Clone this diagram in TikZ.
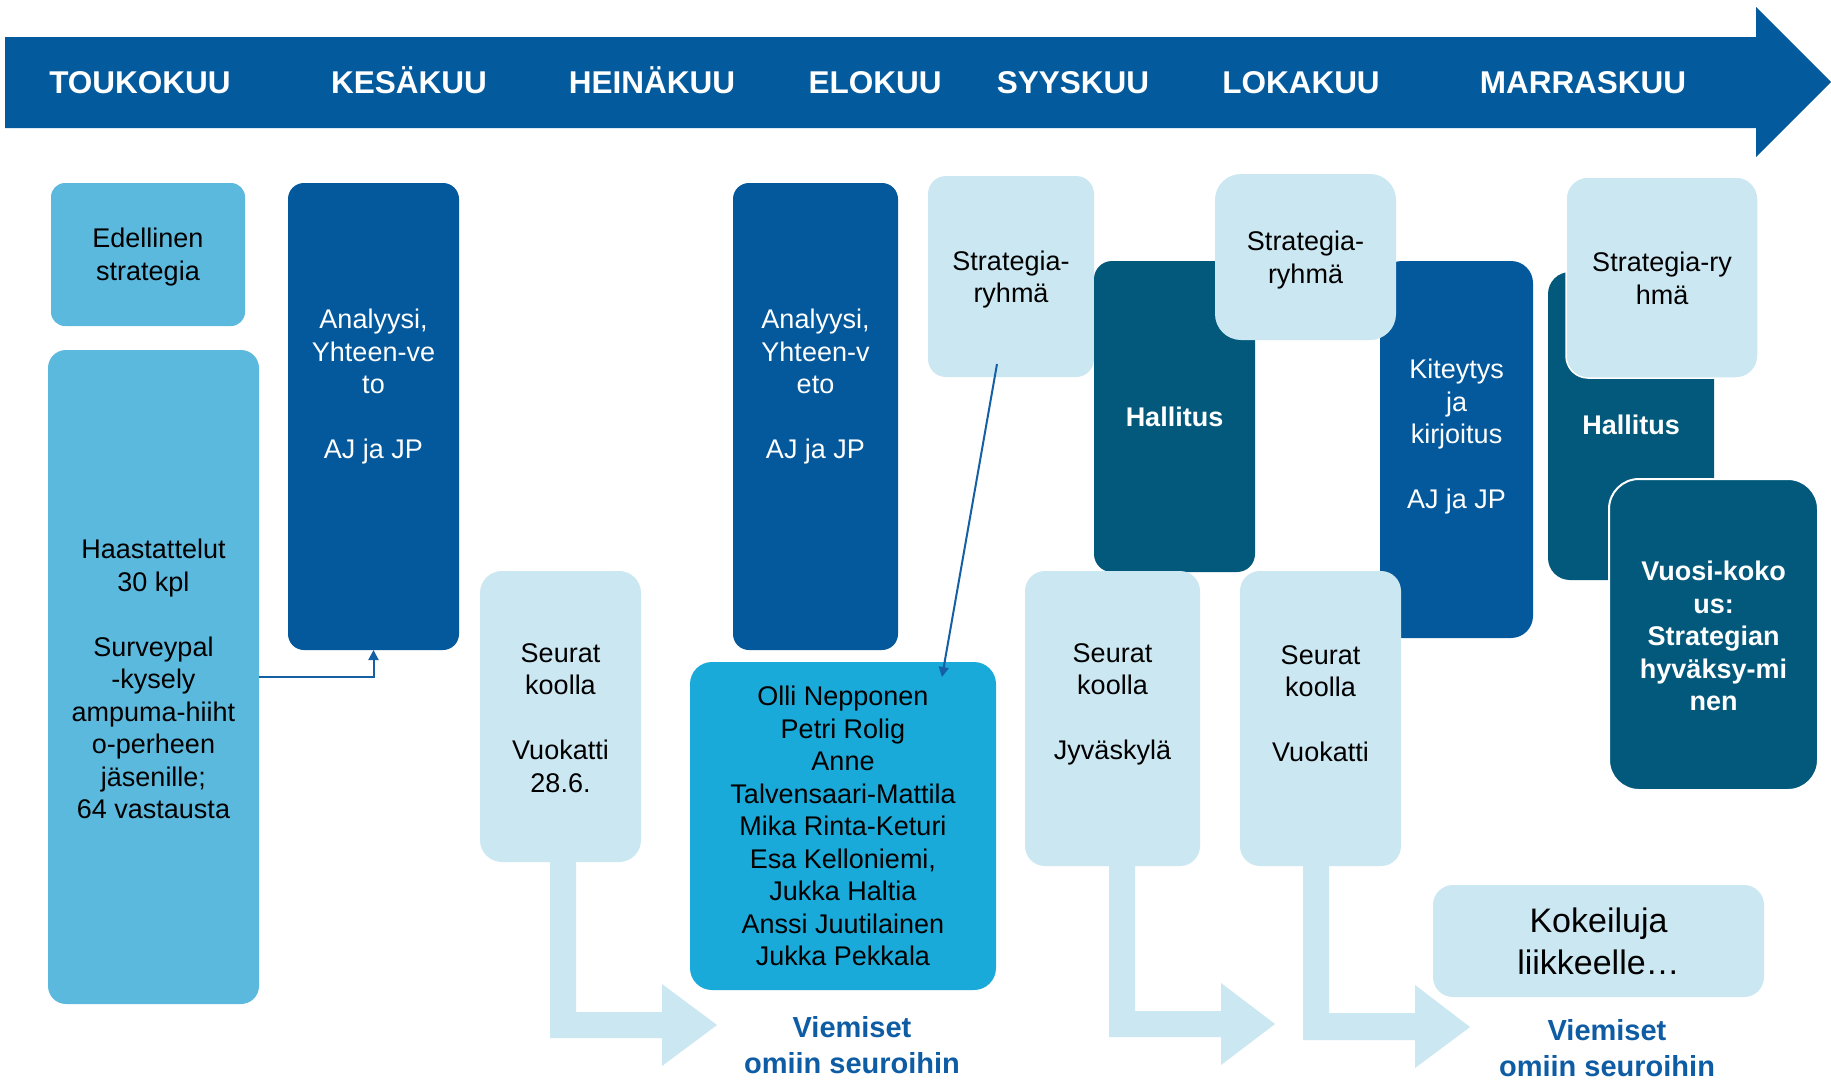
\documentclass[tikz,border=0pt]{standalone}
\usepackage{fontspec}
\setmainfont{Liberation Sans}
\usetikzlibrary{arrows.meta}
\definecolor{bandc}{HTML}{035A9D}
\definecolor{midblue}{HTML}{5CB9DE}
\definecolor{darkblue}{HTML}{03599C}
\definecolor{pale}{HTML}{CBE7F1}
\definecolor{cyanb}{HTML}{1AAAD9}
\definecolor{tealb}{HTML}{02597C}
\definecolor{linec}{HTML}{1560A4}
\definecolor{vtext}{HTML}{0E5CA4}
\newcommand\myfs[2]{\fontsize{#1}{#2}\selectfont}
\tikzset{
  box/.style={rectangle, inner sep=0pt, outer sep=0pt},
  txt/.style={align=center, inner sep=0pt, font=\myfs{27}{32.5}},
  wtxt/.style={txt, text=white},
  btxt/.style={txt, text=white, font=\myfs{27}{32.5}\bfseries},
  month/.style={text=white, font=\myfs{31.5}{36}\bfseries, inner sep=0pt, anchor=base},
  vlabel/.style={align=center, inner sep=0pt, text=vtext, font=\myfs{29}{36}\bfseries},
  conn/.style={draw=linec, line width=2pt, -{Triangle[length=10pt,width=10pt]}},
  bent/.style={fill=pale}
}
\begin{document}
\begin{tikzpicture}[x=1pt,y=-1pt]
\useasboundingbox (0,0) rectangle (1831,1080);
\fill[white] (0,0) rectangle (1831,1080);
% header arrow band
\fill[bandc] (5,37) -- (1756,37) -- (1756,7) -- (1831,82) -- (1756,157) -- (1756,128) -- (5,128) -- cycle;
\node[month] (m1) at (140,93.5) {TOUKOKUU};
\node[month] (m2) at (409,93.5) {KESÄKUU};
\node[month] (m3) at (652,93.5) {HEINÄKUU};
\node[month] (m4) at (875,93.5) {ELOKUU};
\node[month] (m5) at (1073,93.5) {SYYSKUU};
\node[month] (m6) at (1301,93.5) {LOKAKUU};
\node[month] (m7) at (1583,93.5) {MARRASKUU};

% bent arrows (behind boxes)
\fill[bent] (550,850) -- (576,850) -- (576,1012) -- (662,1012) -- (662,984) -- (717,1025) -- (662,1066) -- (662,1038) -- (550,1038) -- cycle;
\fill[bent] (1109,850) -- (1135,850) -- (1135,1011) -- (1221,1011) -- (1221,983) -- (1275,1024) -- (1221,1065) -- (1221,1037) -- (1109,1037) -- cycle;
\fill[bent] (1303,850) -- (1329,850) -- (1329,1013) -- (1415,1013) -- (1415,985) -- (1470,1027) -- (1415,1068) -- (1415,1040) -- (1303,1040) -- cycle;

% boxes
\node[box, fill=midblue, rounded corners=14pt, minimum width=194pt, minimum height=143pt] (edel) at (148,254.5) {};
\node[txt] (edelt) at (148,257) {Edellinen\\strategia};

\node[box, fill=midblue, rounded corners=18pt, minimum width=211pt, minimum height=654pt] (haas) at (153.5,677) {};
\node[txt] (haast) at (153.5,679) {Haastattelut\\30 kpl\\[32.5pt]Surveypal\\-kysely\\ampuma-hiiht\\o-perheen\\jäsenille;\\64 vastausta};

\node[box, fill=darkblue, rounded corners=16pt, minimum width=171pt, minimum height=467pt] (ana1) at (373.5,416.5) {};
\node[wtxt] (ana1t) at (373.5,387) {Analyysi,\\Yhteen-ve\\to\\[32.5pt]AJ ja JP};

\node[box, fill=pale, rounded corners=22pt, minimum width=161pt, minimum height=291pt] (seur1) at (560.5,716.5) {};
\node[txt] (seur1t) at (560.5,718) {Seurat\\koolla\\[32.5pt]Vuokatti\\28.6.};

\node[box, fill=darkblue, rounded corners=16pt, minimum width=165pt, minimum height=467pt] (ana2) at (815.5,416.5) {};
\node[wtxt] (ana2t) at (815.5,387) {Analyysi,\\Yhteen-v\\eto\\[32.5pt]AJ ja JP};

\node[box, fill=cyanb, rounded corners=22pt, minimum width=306pt, minimum height=328pt] (names) at (843,826) {};
\node[txt] (namest) at (843,826) {Olli Nepponen\\Petri Rolig\\Anne\\Talvensaari-Mattila\\Mika Rinta-Keturi\\Esa Kelloniemi,\\Jukka Haltia\\Anssi Juutilainen\\Jukka Pekkala};

\node[box, fill=pale, rounded corners=18pt, minimum width=166pt, minimum height=201pt] (str1) at (1011,276.5) {};
\node[txt] (str1t) at (1011,279.5) {Strategia-\\ryhmä};

\node[box, fill=tealb, rounded corners=18pt, minimum width=161pt, minimum height=311pt] (hal1) at (1174.5,416.5) {};
\node[btxt] (hal1t) at (1174.5,417) {Hallitus};

\node[box, fill=darkblue, rounded corners=22pt, minimum width=153pt, minimum height=377pt] (kit) at (1456.5,449.5) {};
\node[wtxt] (kitt) at (1456.5,437) {Kiteytys\\ja\\kirjoitus\\[32.5pt]AJ ja JP};

\node[box, fill=pale, rounded corners=26pt, minimum width=181pt, minimum height=166pt] (str2) at (1305.5,257) {};
\node[txt] (str2t) at (1305.5,260) {Strategia-\\ryhmä};

\node[box, fill=pale, rounded corners=20pt, minimum width=175pt, minimum height=295pt] (seur2) at (1112.5,718.5) {};
\node[txt] (seur2t) at (1112.5,704.5) {Seurat\\koolla\\[32.5pt]Jyväskylä};

\node[box, fill=pale, rounded corners=20pt, minimum width=161pt, minimum height=295pt] (seur3) at (1320.5,718.5) {};
\node[txt] (seur3t) at (1320.5,703.5) {Seurat\\koolla\\[32.5pt]Vuokatti};

\node[box, fill=tealb, rounded corners=22pt, minimum width=166pt, minimum height=308pt] (hal2) at (1631,426) {};
\node[btxt] (hal2t) at (1631,425) {Hallitus};

\node[box, fill=pale, draw=white, line width=1.5pt, rounded corners=22pt, minimum width=192pt, minimum height=201pt] (str3) at (1662,277.5) {};
\node[txt] (str3t) at (1662,278.5) {Strategia-ry\\hmä};

\node[box, fill=tealb, draw=white, line width=2pt, rounded corners=30pt, minimum width=209pt, minimum height=311pt] (vuosi) at (1713.5,634.5) {};
\node[btxt] (vuosit) at (1713.5,636) {Vuosi-koko\\us:\\Strategian\\hyväksy-mi\\nen};

\node[box, fill=pale, rounded corners=20pt, minimum width=331pt, minimum height=112pt] (kok) at (1598.5,941) {};
\node[txt, font=\myfs{34}{42}] (kokt) at (1598.5,941) {Kokeiluja\\liikkeelle…};

% labels
\node[vlabel] (v1) at (852,1045) {Viemiset\\omiin seuroihin};
\node[vlabel] (v2) at (1607,1048) {Viemiset\\omiin seuroihin};

% connectors
\draw[conn] (haas.east) -| (ana1.south);
\coordinate (s1) at (997,364);
\coordinate (n1) at (942,677);
\draw[conn] (s1) -- (n1);
\end{tikzpicture}
\end{document}
